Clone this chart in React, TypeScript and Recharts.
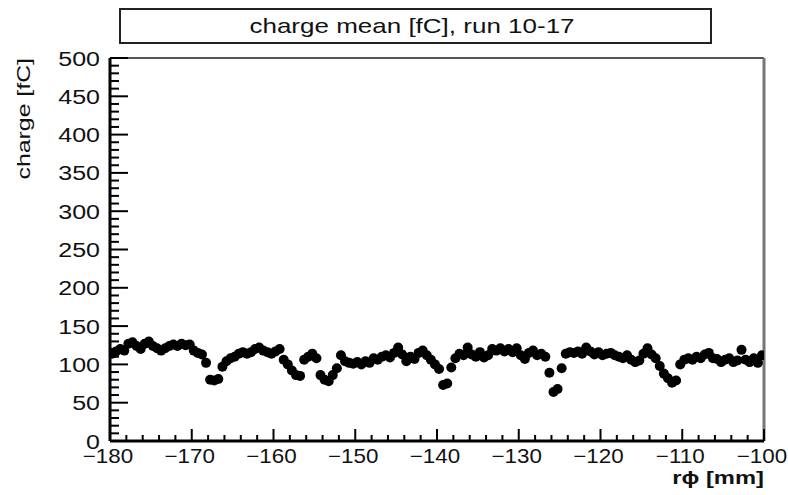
import React from "react";
import { ScatterChart, Scatter, XAxis, YAxis, ReferenceLine } from "recharts";

// charge mean per 0.5 mm bin, from -180 to -100 mm
const chargeMean = [
  114, 117, 120, 118, 127, 129, 124, 120, 127, 130,
  124, 121, 118, 121, 124, 126, 124, 127, 125, 126,
  118, 115, 113, 102, 80, 79, 81, 97, 104, 108,
  110, 114, 116, 114, 116, 120, 122, 118, 116, 114,
  117, 120, 106, 100, 92, 86, 85, 106, 110, 114,
  108, 86, 80, 78, 86, 95, 112, 104, 102, 101,
  103, 100, 104, 102, 108, 106, 110, 112, 109, 115,
  122, 113, 104, 110, 107, 115, 118, 112, 106, 100,
  94, 73, 75, 96, 108, 114, 112, 122, 113, 110,
  116, 109, 112, 120, 118, 121, 117, 120, 116, 121,
  112, 107, 115, 118, 112, 114, 110, 89, 64, 68,
  95, 114, 116, 115, 117, 114, 122, 117, 113, 116,
  112, 114, 115, 112, 110, 108, 112, 106, 103, 105,
  114, 121, 113, 108, 98, 88, 82, 76, 79, 100,
  106, 108, 106, 110, 108, 113, 115, 108, 107, 103,
  106, 108, 103, 105, 119, 106, 103, 108, 102, 112,
];

const xMin = -180;
const xMax = -100;
const binWidth = 0.5;
const yMin = 0;
const yMax = 500;

const xMajor = [-180, -170, -160, -150, -140, -130, -120, -110, -100];
const yMajor = [0, 50, 100, 150, 200, 250, 300, 350, 400, 450, 500];

const title = "charge mean [fC], run 10-17";
const xTitle = "r\u03d5 [mm]";
const yTitle = "charge [fC]";

const data = chargeMean.map((v, i) => ({ x: xMin + binWidth * (i + 0.5), y: v }));

// minor ticks: every 2 mm on x, every 10 fC on y
const xTicks: number[] = [];
for (let v = xMin; v <= xMax; v += 2) xTicks.push(v);
const yTicks: number[] = [];
for (let v = yMin; v <= yMax; v += 10) yTicks.push(v);

const FONT = "'Liberation Sans', Arial, Helvetica, sans-serif";
const STRETCH = 1.25;

const fmt = (v: number) => String(v).replace("-", "\u2212");

function XTick(props: any) {
  const { x, y, payload } = props;
  const v = payload.value;
  const major = xMajor.includes(v);
  return (
    <g>
      <line x1={x} y1={y} x2={x} y2={y - (major ? 12 : 6)} stroke="#000" strokeWidth={2} />
      {major && (
        <text
          transform={`translate(${x - 2},${y + 22}) scale(1.12,1)`}
          textAnchor="middle"
          fontSize={20}
          fontFamily={FONT}
          fill="#111"
        >
          {fmt(v)}
        </text>
      )}
    </g>
  );
}

function YTick(props: any) {
  const { x, y, payload } = props;
  const v = payload.value;
  const major = yMajor.includes(v);
  return (
    <g>
      <line x1={x} y1={y} x2={x + (major ? 18 : 9)} y2={y} stroke="#000" strokeWidth={2} />
      {major && (
        <text
          transform={`translate(${x - 10},${y + 7.5}) scale(${STRETCH},1)`}
          textAnchor="end"
          fontSize={20}
          fontFamily={FONT}
          fill="#111"
        >
          {v}
        </text>
      )}
    </g>
  );
}

export default function App() {
  return (
    <div style={{ position: "absolute", left: 0, top: 0, width: 788, height: 495, background: "#fff" }}>
      <ScatterChart width={788} height={495} margin={{ top: 58, right: 24, bottom: 0, left: 0 }}>
        <XAxis
          type="number"
          dataKey="x"
          domain={[xMin, xMax]}
          ticks={xTicks}
          interval={0}
          height={54}
          tickSize={0}
          tickMargin={0}
          tickLine={false}
          axisLine={{ stroke: "#000", strokeWidth: 3 }}
          tick={(p: any) => <XTick {...p} />}
          allowDataOverflow
        />
        <YAxis
          type="number"
          dataKey="y"
          domain={[yMin, yMax]}
          ticks={yTicks}
          interval={0}
          width={110}
          tickSize={0}
          tickMargin={0}
          tickLine={false}
          axisLine={{ stroke: "#000", strokeWidth: 3 }}
          tick={(p: any) => <YTick {...p} />}
          allowDataOverflow
        />
        <ReferenceLine y={yMax} stroke="#555" strokeWidth={2} ifOverflow="visible" />
        <ReferenceLine x={xMax} stroke="#777" strokeWidth={3} ifOverflow="visible" />
        <Scatter
          data={data}
          isAnimationActive={false}
          shape={(p: any) => <circle cx={p.cx} cy={p.cy} r={5} fill="#000" />}
        />
      </ScatterChart>
      <svg width={788} height={495} style={{ position: "absolute", left: 0, top: 0, pointerEvents: "none" }}>
        <rect x={120} y={9} width={591} height={34} fill="#fff" stroke="#222" strokeWidth={2} />
        <text
          transform={`translate(412,33) scale(1.3,1)`}
          textAnchor="middle"
          fontSize={20}
          fontFamily={FONT}
          fill="#111"
        >
          {title}
        </text>
        <text
          transform={`translate(30,58) rotate(-90) scale(1.38,1)`}
          textAnchor="end"
          fontSize={18}
          fontFamily={FONT}
          fill="#111"
        >
          {yTitle}
        </text>
        <text
          transform={`translate(764,484) scale(${STRETCH},1)`}
          textAnchor="end"
          fontSize={19}
          fontWeight="bold"
          fontFamily={FONT}
          fill="#111"
        >
          {xTitle}
        </text>
      </svg>
    </div>
  );
}
